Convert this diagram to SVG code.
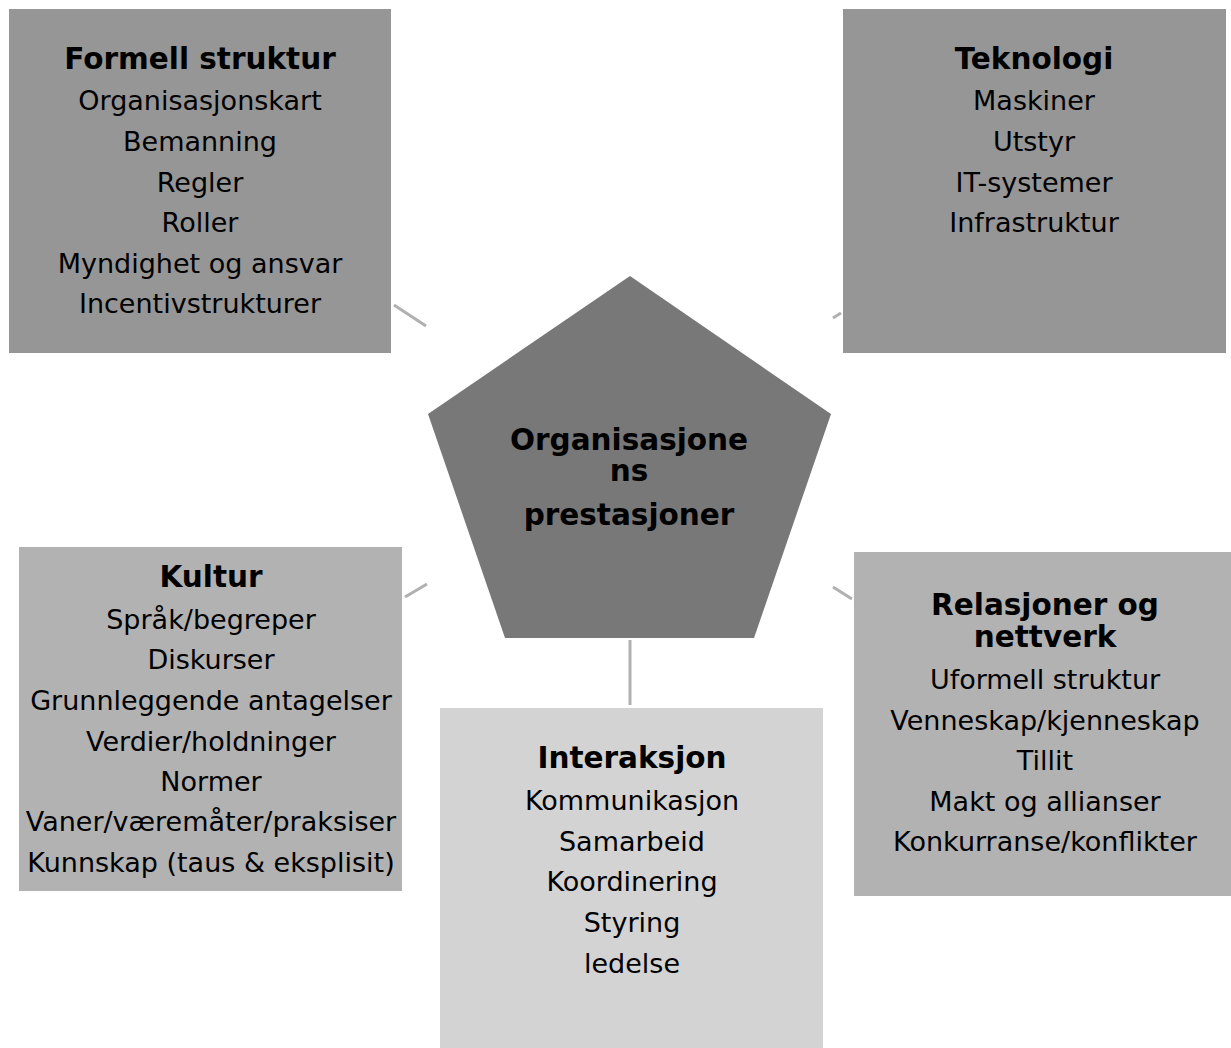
<svg xmlns="http://www.w3.org/2000/svg" width="1231" height="1048" viewBox="0 0 1231 1048">
<style>
.t{font-family:"DejaVu Sans",Verdana,sans-serif;font-size:27px;fill:#000;text-anchor:middle}
.b{font-family:"DejaVu Sans",Verdana,sans-serif;font-size:29.5px;font-weight:bold;fill:#000;text-anchor:middle}
.c{stroke:#b0b0b0;stroke-width:3;fill:none}
</style>
<rect width="1231" height="1048" fill="#fff"/>
<g id="connectors">
<line class="c" x1="394" y1="305" x2="426" y2="326"/>
<line class="c" x1="833" y1="318" x2="841" y2="313"/>
<line class="c" x1="405" y1="597" x2="427" y2="584"/>
<line class="c" x1="833" y1="587" x2="852" y2="599"/>
<line class="c" x1="630" y1="640" x2="630" y2="705"/>
</g>
<g id="center">
<polygon points="630,276 831,414 754,638 505,638 428,414" fill="#787878"/>
<text class="b" x="629" y="450">Organisasjone</text>
<text class="b" x="629" y="481">ns</text>
<text class="b" x="629" y="525">prestasjoner</text>
</g>
<g id="formell">
<rect x="9" y="9" width="382" height="344" fill="#969696"/>
<text class="b" x="200" y="69">Formell struktur</text>
<text class="t" x="200" y="110">Organisasjonskart</text>
<text class="t" x="200" y="151">Bemanning</text>
<text class="t" x="200" y="192">Regler</text>
<text class="t" x="200" y="232">Roller</text>
<text class="t" x="200" y="273">Myndighet og ansvar</text>
<text class="t" x="200" y="313">Incentivstrukturer</text>
</g>
<g id="teknologi">
<rect x="843" y="9" width="383" height="344" fill="#969696"/>
<text class="b" x="1034" y="69">Teknologi</text>
<text class="t" x="1034" y="110">Maskiner</text>
<text class="t" x="1034" y="151">Utstyr</text>
<text class="t" x="1034" y="192">IT-systemer</text>
<text class="t" x="1034" y="232">Infrastruktur</text>
</g>
<g id="kultur">
<rect x="19" y="547" width="383" height="344" fill="#b2b2b2"/>
<text class="b" x="211" y="587">Kultur</text>
<text class="t" x="211" y="629">Språk/begreper</text>
<text class="t" x="211" y="669">Diskurser</text>
<text class="t" x="211" y="710">Grunnleggende antagelser</text>
<text class="t" x="211" y="751">Verdier/holdninger</text>
<text class="t" x="211" y="791">Normer</text>
<text class="t" x="211" y="831">Vaner/væremåter/praksiser</text>
<text class="t" x="211" y="872">Kunnskap (taus &amp; eksplisit)</text>
</g>
<g id="relasjoner">
<rect x="854" y="552" width="383" height="344" fill="#b2b2b2"/>
<text class="b" x="1045" y="615">Relasjoner og</text>
<text class="b" x="1045" y="647">nettverk</text>
<text class="t" x="1045" y="689">Uformell struktur</text>
<text class="t" x="1045" y="730">Venneskap/kjenneskap</text>
<text class="t" x="1045" y="770">Tillit</text>
<text class="t" x="1045" y="811">Makt og allianser</text>
<text class="t" x="1045" y="851">Konkurranse/konflikter</text>
</g>
<g id="interaksjon">
<rect x="440" y="708" width="383" height="344" fill="#d3d3d3"/>
<text class="b" x="632" y="768">Interaksjon</text>
<text class="t" x="632" y="810">Kommunikasjon</text>
<text class="t" x="632" y="851">Samarbeid</text>
<text class="t" x="632" y="891">Koordinering</text>
<text class="t" x="632" y="932">Styring</text>
<text class="t" x="632" y="973">ledelse</text>
</g>
</svg>
